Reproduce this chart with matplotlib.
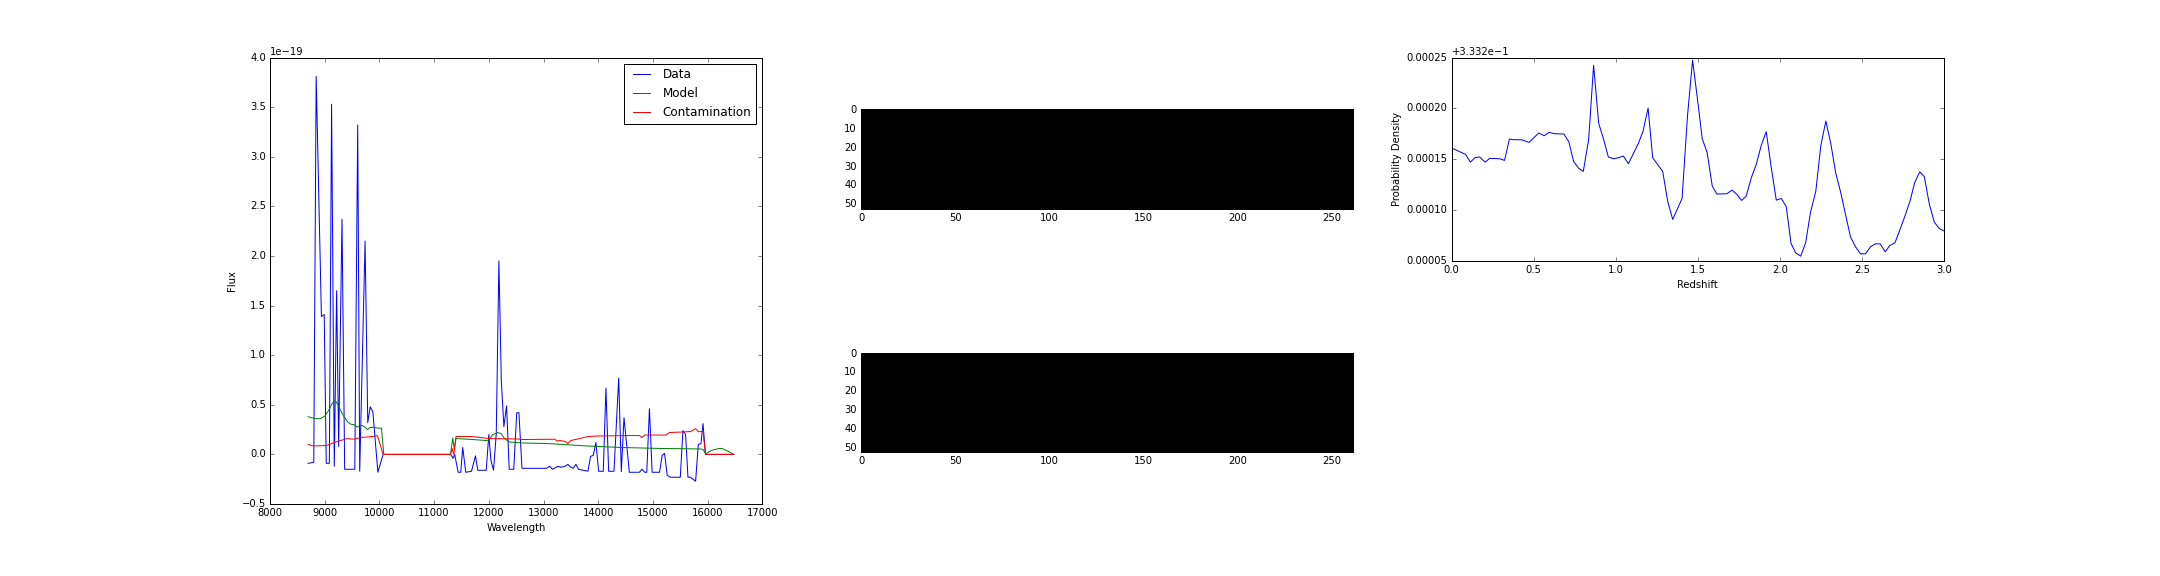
import numpy as np
import matplotlib
matplotlib.use('Agg')
import matplotlib.pyplot as plt
from matplotlib.gridspec import GridSpec
from matplotlib.ticker import MultipleLocator

# spectrum, flux in units of 1e-19
wave_data = [8697, 8800, 8844, 8940, 8991, 9028, 9085, 9126, 9175, 9218, 9255, 9316,
             9365, 9450, 9550, 9603, 9640, 9738, 9787, 9832, 9880, 9972, 10068, 11300,
             11328, 11345, 11376, 11439, 11487, 11523, 11578, 11683, 11756, 11798, 11952,
             12000, 12037, 12086, 12136, 12184, 12228, 12275, 12325, 12372, 12456, 12510,
             12550, 12606, 13053, 13114, 13163, 13261, 13310, 13395, 13444, 13500, 13542,
             13591, 13640, 13811, 13860, 13909, 13958, 14007, 14092, 14141, 14190, 14288,
             14374, 14422, 14471, 14569, 14752, 14801, 14850, 14887, 14936, 14985, 15120,
             15169, 15212, 15261, 15316, 15500, 15548, 15597, 15640, 15683, 15780, 15829,
             15878, 15915, 15960, 16480]
flux_data = [-0.09, -0.08, 3.81, 1.39, 1.41, -0.09, -0.09, 3.53, -0.12, 1.65, 0.08, 2.37,
             -0.15, -0.15, -0.15, 3.32, -0.17, 2.15, 0.32, 0.48, 0.43, -0.18, 0.0, 0.0,
             -0.02, -0.04, 0.0, -0.18, -0.18, 0.07, -0.18, -0.17, -0.015, -0.16, -0.16,
             0.20, -0.055, -0.16, 0.21, 1.95, 0.75, 0.28, 0.49, -0.15, -0.15, 0.42,
             0.42, -0.14, -0.14, -0.12, -0.15, -0.12, -0.13, -0.12, -0.10, -0.13, -0.14,
             -0.10, -0.15, -0.17, -0.02, -0.01, 0.12, -0.17, -0.17, 0.67, -0.17, -0.17,
             0.77, -0.175, 0.37, -0.18, -0.18, -0.15, -0.18, -0.18, 0.46, -0.18, -0.18,
             -0.01, 0.01, -0.21, -0.23, -0.23, 0.24, 0.20, -0.23, -0.23, -0.27, 0.10,
             0.11, 0.31, 0.0, 0.0]

wave_model = [8697, 8830, 8920, 9000, 9073, 9134, 9175, 9210, 9260, 9330, 9415, 9475,
              9535, 9590, 9640, 9690, 9735, 9785, 9820, 9880, 9966, 10038, 10080, 11300,
              11340, 11370, 11400, 11700, 11950, 12000, 12073, 12165, 12226, 12287, 12380,
              12500, 12620, 13053, 13790, 14400, 15130, 15866, 15915, 15963, 16073, 16208,
              16260, 16380, 16477]
flux_model = [0.38, 0.36, 0.36, 0.385, 0.445, 0.51, 0.54, 0.53, 0.48, 0.40, 0.33, 0.305,
              0.30, 0.275, 0.29, 0.29, 0.275, 0.25, 0.27, 0.275, 0.265, 0.265, 0.0, 0.0,
              0.165, 0.05, 0.16, 0.15, 0.14, 0.145, 0.20, 0.22, 0.21, 0.16, 0.125,
              0.12, 0.115, 0.11, 0.085, 0.07, 0.06, 0.055, 0.05, 0.005, 0.04, 0.06,
              0.06, 0.03, 0.0]

wave_contam = [8697, 8800, 9028, 9090, 9170, 9290, 9415, 9475, 9555, 9650, 9875, 9963,
               10068, 11300, 11328, 11360, 11400, 11693, 11999, 12550, 12606, 13206, 13250,
               13300, 13395, 13444, 13500, 13660, 13811, 13970, 14520, 14752, 14801, 14850,
               15240, 15300, 15683, 15720, 15780, 15829, 15915, 15963, 16477]
flux_contam = [0.10, 0.085, 0.09, 0.10, 0.12, 0.14, 0.16, 0.155, 0.155, 0.17, 0.18, 0.19,
               0.0, 0.0, 0.06, 0.0, 0.18, 0.18, 0.16, 0.155, 0.15, 0.153, 0.135,
               0.14, 0.13, 0.11, 0.14, 0.16, 0.18, 0.185, 0.19, 0.19, 0.17, 0.195,
               0.195, 0.22, 0.23, 0.24, 0.26, 0.23, 0.23, 0.0, 0.0]

flux_unit = 1e-19

# two black 2d images
img_shape = (53, 262)

# redshift pdf, stored as offset from 0.3332 in units of 1e-5
redshift = [0.0, 0.085, 0.114, 0.142, 0.171, 0.204, 0.232, 0.293, 0.322, 0.352, 0.383,
            0.427, 0.472, 0.505, 0.531, 0.564, 0.594, 0.625, 0.684, 0.714, 0.743, 0.773,
            0.802, 0.835, 0.865, 0.896, 0.926, 0.955, 0.985, 1.018, 1.046, 1.077, 1.107,
            1.138, 1.166, 1.197, 1.225, 1.256, 1.286, 1.317, 1.347, 1.376, 1.404, 1.437,
            1.468, 1.498, 1.527, 1.557, 1.588, 1.616, 1.677, 1.708, 1.736, 1.767, 1.795,
            1.826, 1.856, 1.887, 1.917, 1.946, 1.978, 2.009, 2.039, 2.068, 2.096, 2.127,
            2.157, 2.186, 2.219, 2.249, 2.280, 2.310, 2.340, 2.371, 2.400, 2.430, 2.461,
            2.491, 2.522, 2.552, 2.581, 2.611, 2.642, 2.670, 2.701, 2.732, 2.762, 2.793,
            2.821, 2.852, 2.880, 2.911, 2.941, 2.972, 3.0]
pdf_delta = [16.09, 15.46, 14.7, 15.13, 15.2, 14.7, 15.07, 15.03, 14.87, 16.97, 16.9,
             16.9, 16.64, 17.17, 17.57, 17.3, 17.63, 17.5, 17.47, 16.71, 14.77, 14.11,
             13.78, 16.94, 24.24, 18.52, 16.94, 15.2, 15.03, 15.13, 15.3, 14.54, 15.53,
             16.55, 17.73, 20.03, 15.13, 14.44, 13.78, 10.79, 9.05, 10.1, 11.12, 19.24,
             24.74, 20.89, 17.0, 15.63, 12.34, 11.55, 11.58, 11.94, 11.55, 10.92, 11.35,
             13.16, 14.47, 16.38, 17.7, 14.31, 10.95, 11.12, 10.3, 6.68, 5.76, 5.43,
             6.74, 9.7, 11.84, 16.28, 18.75, 16.55, 13.65, 11.68, 9.54, 7.34, 6.35,
             5.66, 5.66, 6.35, 6.64, 6.64, 5.86, 6.48, 6.74, 8.06, 9.38, 10.86,
             12.66, 13.75, 13.26, 10.53, 8.78, 8.13, 7.93]
pdf_base = 0.3332

plt.style.use('classic')
plt.rcParams['font.size'] = 10
plt.rcParams['savefig.facecolor'] = 'white'

fig = plt.figure(figsize=(30, 8), dpi=72, facecolor='white')
gs = GridSpec(2, 3, left=0.125, right=0.9, bottom=0.125, top=0.9, wspace=0.2, hspace=0.2)

ax = fig.add_subplot(gs[:, 0])
ax.plot(wave_data, np.array(flux_data) * flux_unit, 'b', label='Data')
ax.plot(wave_model, np.array(flux_model) * flux_unit, 'g', label='Model')
ax.plot(wave_contam, np.array(flux_contam) * flux_unit, 'r', label='Contamination')
ax.set_xlim(8000, 17000)
ax.set_ylim(-0.5 * flux_unit, 4.0 * flux_unit)
ax.yaxis.set_major_locator(MultipleLocator(0.5 * flux_unit))
ax.set_xlabel('Wavelength')
ax.set_ylabel('Flux')
ax.legend(loc='upper right')

for row in range(2):
    axi = fig.add_subplot(gs[row, 1])
    axi.imshow(np.zeros(img_shape), cmap='gray', interpolation='nearest')
    axi.set_yticks([0, 10, 20, 30, 40, 50])
    axi.set_xticks([0, 50, 100, 150, 200, 250])

axz = fig.add_subplot(gs[0, 2])
axz.plot(redshift, pdf_base + np.array(pdf_delta) * 1e-5, 'b')
axz.set_xlim(0, 3)
axz.set_ylim(pdf_base + 5e-5, pdf_base + 25e-5)
axz.yaxis.set_major_locator(MultipleLocator(5e-5))
axz.ticklabel_format(axis='y', useOffset=pdf_base)
axz.set_xlabel('Redshift')
axz.set_ylabel('Probability Density')

plt.savefig('out.png', dpi=72)
